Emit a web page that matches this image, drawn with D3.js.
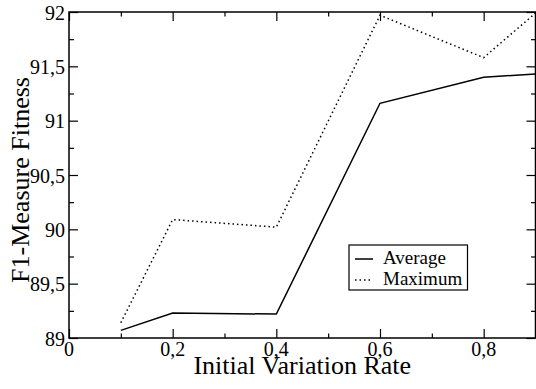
<!DOCTYPE html>
<html><head><meta charset="utf-8">
<script src="https://cdn.jsdelivr.net/npm/d3@7"></script>
<style>body{margin:0;background:#fff}svg{display:block}</style>
</head><body><svg id="c" width="536" height="389" font-family="'Liberation Serif', 'Times New Roman', 'DejaVu Serif', serif"></svg>
<script>
const rates = [0.1, 0.2, 0.4, 0.6, 0.8, 0.9];
const averageValues = [89.07, 89.23, 89.22, 91.16, 91.40, 91.43];
const maximumValues = [89.14, 90.09, 90.02, 91.97, 91.58, 91.99];
const xTickValues = [0, 0.2, 0.4, 0.6, 0.8];
const yTickValues = [89, 89.5, 90, 90.5, 91, 91.5, 92];
const seriesNames = ["Average", "Maximum"];

const svg = d3.select("#c");
const L = 69, R = 535.5, T = 12, B = 338;
const x = d3.scaleLinear().domain([0, 0.9]).range([L, R]);
const y = d3.scaleLinear().domain([89, 92]).range([B, T]);
const fmt = d => d3.format("")(d).replace(".", ",");

const xMinor = d3.range(0.1, 0.9, 0.2).map(v => +v.toFixed(2));
const yMinor = d3.range(89.25, 92, 0.5);

function ticks(axisFn, scale, vals, len) {
  return axisFn(scale).tickValues(vals).tickSizeInner(len).tickSizeOuter(0).tickFormat("");
}
const g = svg.append("g");
g.append("g").attr("transform", `translate(0,${B})`).call(ticks(d3.axisTop, x, xTickValues, 9));
g.append("g").attr("transform", `translate(0,${B})`).call(ticks(d3.axisTop, x, xMinor, 4.5));
g.append("g").attr("transform", `translate(0,${T})`).call(ticks(d3.axisBottom, x, xTickValues, 9));
g.append("g").attr("transform", `translate(0,${T})`).call(ticks(d3.axisBottom, x, xMinor, 4.5));
g.append("g").attr("transform", `translate(${L},0)`).call(ticks(d3.axisRight, y, yTickValues, 9));
g.append("g").attr("transform", `translate(${L},0)`).call(ticks(d3.axisRight, y, yMinor, 5));
g.append("g").attr("transform", `translate(${R},0)`).call(ticks(d3.axisLeft, y, yTickValues, 9));
g.append("g").attr("transform", `translate(${R},0)`).call(ticks(d3.axisLeft, y, yMinor, 4.5));
g.selectAll(".domain").remove();
g.selectAll("text").remove();
g.selectAll("line").attr("stroke", "#000").attr("stroke-width", 1.2);

// tick labels
svg.append("g").selectAll("text").data(xTickValues).join("text")
  .attr("x", d => x(d)).attr("y", 355.5).attr("text-anchor", "middle")
  .attr("font-size", 20).text(fmt);
svg.append("g").selectAll("text").data(yTickValues).join("text")
  .attr("x", 65).attr("y", d => y(d) + 7.5).attr("text-anchor", "end")
  .attr("font-size", 20).text(fmt);

// frame
svg.append("rect").attr("x", L).attr("y", T).attr("width", R - L).attr("height", B - T)
  .attr("fill", "none").attr("stroke", "#000").attr("stroke-width", 1.5);

// lines
const line = d3.line().x((d, i) => x(rates[i])).y(d => y(d));
svg.append("path").datum(averageValues).attr("d", line)
  .attr("fill", "none").attr("stroke", "#000").attr("stroke-width", 1.5);
svg.append("path").datum(maximumValues).attr("d", line)
  .attr("fill", "none").attr("stroke", "#000").attr("stroke-width", 1.5)
  .attr("stroke-dasharray", "1.5,3");

// axis titles
svg.append("text").attr("x", (L + R) / 2).attr("y", 373.5).attr("text-anchor", "middle")
  .attr("font-size", 26).text("Initial Variation Rate");
svg.append("text").attr("transform", "translate(29,180) rotate(-90)").attr("text-anchor", "middle")
  .attr("font-size", 26).text("F1-Measure Fitness");

// legend
const lg = svg.append("g");
lg.append("rect").attr("x", 349).attr("y", 245).attr("width", 118.5).attr("height", 45)
  .attr("fill", "#fff").attr("stroke", "#000").attr("stroke-width", 1.2);
seriesNames.forEach((name, i) => {
  const yy = 259 + i * 21;
  lg.append("line").attr("x1", 355).attr("x2", 373).attr("y1", yy).attr("y2", yy)
    .attr("stroke", "#000").attr("stroke-width", 1.5)
    .attr("stroke-dasharray", i === 1 ? "1.5,3" : null);
  lg.append("text").attr("x", 383).attr("y", yy + 5).attr("font-size", 19).text(name);
});
</script></body></html>
